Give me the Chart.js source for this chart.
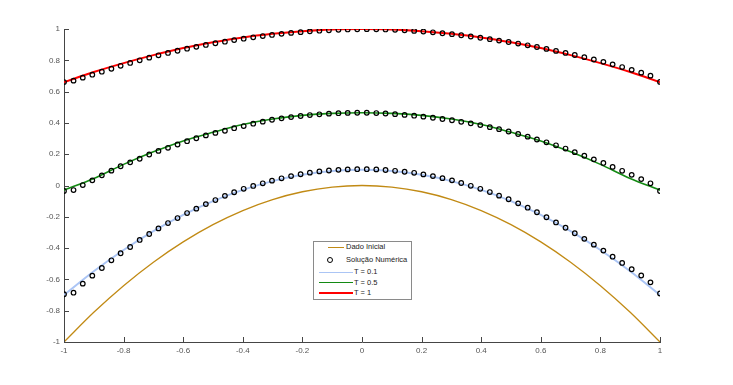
<!DOCTYPE html>
<html>
<head>
<meta charset="utf-8">
<script src="https://cdn.jsdelivr.net/npm/chart.js@4.4.0/dist/chart.umd.min.js"></script>
<style>
  html, body { margin: 0; padding: 0; background: #fff; }
  #wrap { position: relative; width: 733px; height: 385px; }
  #legend {
    position: absolute; left: 313px; top: 241px; width: 97px; height: 57px;
    border: 1px solid #8a8a8a; background: #fff;
    font-family: "Liberation Sans", Arial, sans-serif; font-size: 7.5px; color: #222;
  }
  #legend .row { position: absolute; left: 0; height: 10px; width: 97px; }
  #legend .txt { position: absolute; top: 0; line-height: 10px; white-space: nowrap; }
  #legend .ln { position: absolute; top: 5px; }
  #legend .mk { position: absolute; top: 2px; width: 4px; height: 4px; border: 1.2px solid #000; border-radius: 50%; }
</style>
</head>
<body>
<div id="wrap">
  <canvas id="chart" width="733" height="385"></canvas>
  <div id="legend"></div>
</div>
<script>
// grid of the numerical solution (64 nodes on [-1, 1])
var xNum = [-1, -0.968, -0.937, -0.905, -0.873, -0.841, -0.810, -0.778, -0.746, -0.714,
    -0.683, -0.651, -0.619, -0.587, -0.556, -0.524, -0.492, -0.460, -0.429, -0.397,
    -0.365, -0.333, -0.302, -0.270, -0.238, -0.206, -0.175, -0.143, -0.111, -0.079,
    -0.048, -0.016, 0.016, 0.048, 0.079, 0.111, 0.143, 0.175, 0.206, 0.238,
    0.270, 0.302, 0.333, 0.365, 0.397, 0.429, 0.460, 0.492, 0.524, 0.556,
    0.587, 0.619, 0.651, 0.683, 0.714, 0.746, 0.778, 0.810, 0.841, 0.873,
    0.905, 0.937, 0.968, 1];

// numerical solution (circles)
var numT01 = [-0.695, -0.685, -0.627, -0.576, -0.527, -0.478, -0.433, -0.393, -0.348, -0.310,
    -0.274, -0.240, -0.208, -0.176, -0.148, -0.119, -0.093, -0.066, -0.043, -0.021,
    -0.003, 0.014, 0.031, 0.046, 0.060, 0.072, 0.082, 0.090, 0.096, 0.100,
    0.103, 0.104, 0.104, 0.103, 0.099, 0.094, 0.088, 0.081, 0.071, 0.060,
    0.047, 0.033, 0.016, -0.002, -0.021, -0.042, -0.065, -0.088, -0.114, -0.142,
    -0.171, -0.203, -0.236, -0.270, -0.305, -0.341, -0.378, -0.416, -0.455, -0.495,
    -0.535, -0.575, -0.619, -0.690];
var numT05 = [-0.035, -0.029, 0.003, 0.033, 0.065, 0.095, 0.123, 0.148, 0.171, 0.198,
    0.221, 0.241, 0.262, 0.283, 0.302, 0.320, 0.336, 0.350, 0.366, 0.380,
    0.395, 0.408, 0.420, 0.429, 0.437, 0.444, 0.450, 0.455, 0.459, 0.462,
    0.464, 0.465, 0.465, 0.463, 0.460, 0.456, 0.451, 0.446, 0.440, 0.433,
    0.425, 0.417, 0.407, 0.397, 0.386, 0.373, 0.360, 0.345, 0.329, 0.312,
    0.294, 0.276, 0.257, 0.236, 0.213, 0.190, 0.167, 0.144, 0.119, 0.094,
    0.068, 0.041, 0.014, -0.035];
var numT1 = [0.661, 0.670, 0.689, 0.708, 0.727, 0.746, 0.765, 0.783, 0.800, 0.817,
    0.832, 0.847, 0.861, 0.874, 0.886, 0.898, 0.909, 0.919, 0.929, 0.938,
    0.947, 0.955, 0.962, 0.969, 0.975, 0.980, 0.985, 0.989, 0.992, 0.995,
    0.997, 0.998, 0.999, 0.998, 0.997, 0.995, 0.992, 0.988, 0.984, 0.979,
    0.973, 0.967, 0.960, 0.952, 0.944, 0.935, 0.926, 0.917, 0.907, 0.896,
    0.885, 0.873, 0.860, 0.847, 0.834, 0.820, 0.805, 0.790, 0.774, 0.757,
    0.739, 0.721, 0.702, 0.662];

// reference curves
var xLine = [-1, -0.9, -0.8, -0.7, -0.6, -0.5, -0.4, -0.3, -0.2, -0.1, 0,
    0.1, 0.2, 0.3, 0.4, 0.5, 0.6, 0.7, 0.8, 0.9, 1];
var dadoInicial = [-1, -0.81, -0.64, -0.49, -0.36, -0.25, -0.16, -0.09, -0.04, -0.01, 0,
    -0.01, -0.04, -0.09, -0.16, -0.25, -0.36, -0.49, -0.64, -0.81, -1];
var lineT01 = [-0.70, -0.548, -0.412, -0.292, -0.188, -0.10, -0.028, 0.028, 0.068, 0.092, 0.10,
    0.092, 0.068, 0.028, -0.028, -0.10, -0.188, -0.292, -0.412, -0.548, -0.70];
var lineT05 = [-0.03, 0.045, 0.135, 0.215, 0.285, 0.34, 0.39, 0.425, 0.448, 0.461, 0.465,
    0.461, 0.448, 0.425, 0.39, 0.34, 0.285, 0.215, 0.135, 0.045, -0.03];
var lineT1 = [0.66, 0.725, 0.782, 0.833, 0.878, 0.915, 0.946, 0.969, 0.986, 0.997, 1.0,
    0.997, 0.986, 0.969, 0.946, 0.915, 0.878, 0.833, 0.782, 0.725, 0.66];

var tickValues = [-1, -0.8, -0.6, -0.4, -0.2, 0, 0.2, 0.4, 0.6, 0.8, 1];
var legendLabels = ['Dado Inicial', 'Solução Numérica', 'T = 0.1', 'T = 0.5', 'T = 1'];

var colInicial = '#c18a14';
var colT01 = '#abc5f5';
var colT05 = '#138a13';
var colT1 = '#ff0000';
var axisCol = '#454545';

function pts(xs, ys) {
    return xs.map(function(x, i) { return {x: x, y: ys[i]}; });
}

function lineSet(label, ys, color, width) {
    return {
        label: label, data: pts(xLine, ys), showLine: true, borderColor: color, borderWidth: width,
        pointRadius: 0, cubicInterpolationMode: 'monotone', order: 2
    };
}

function circleSet(ys) {
    return {
        label: legendLabels[1], data: pts(xNum, ys), showLine: false,
        pointRadius: 2.3, pointBorderWidth: 1.2, pointBorderColor: '#000',
        pointBackgroundColor: 'rgba(0,0,0,0)', order: 1
    };
}

// small tick marks pointing into the plot, like the original axes
var innerTicks = {
    id: 'innerTicks',
    afterDraw: function(chart) {
        var ctx = chart.ctx, a = chart.chartArea;
        var xs = chart.scales.x, ys = chart.scales.y;
        ctx.save();
        ctx.strokeStyle = axisCol;
        ctx.lineWidth = 1;
        ctx.beginPath();
        tickValues.forEach(function(v) {
            var px = Math.round(xs.getPixelForValue(v)) + 0.5;
            ctx.moveTo(px, a.bottom);
            ctx.lineTo(px, a.bottom - 5);
            var py = Math.round(ys.getPixelForValue(v)) + 0.5;
            ctx.moveTo(a.left, py);
            ctx.lineTo(a.left + 5, py);
        });
        ctx.stroke();
        ctx.restore();
    }
};

function fmt(v) { return String(Number(v.toFixed(1))); }

var tickFont = {family: '"Liberation Sans", Arial, sans-serif', size: 8};

var chart = new Chart(document.getElementById('chart'), {
    type: 'scatter',
    data: {
        datasets: [
            circleSet(numT01),
            circleSet(numT05),
            circleSet(numT1),
            lineSet(legendLabels[0], dadoInicial, colInicial, 1.3),
            lineSet(legendLabels[2], lineT01, colT01, 2),
            lineSet(legendLabels[3], lineT05, colT05, 1.6),
            lineSet(legendLabels[4], lineT1, colT1, 2)
        ]
    },
    options: {
        responsive: false,
        animation: false,
        layout: {padding: {top: 29, right: 73, left: 0, bottom: 0}},
        plugins: {legend: {display: false}, tooltip: {enabled: false}},
        scales: {
            x: {
                type: 'linear', min: -1, max: 1,
                afterBuildTicks: function(s) { s.ticks = tickValues.map(function(v) { return {value: v}; }); },
                afterFit: function(s) { s.height = 43; },
                grid: {display: true, drawOnChartArea: false, drawTicks: false},
                border: {display: true, color: axisCol, width: 1},
                ticks: {font: tickFont, color: '#555', padding: 4, maxRotation: 0, callback: fmt}
            },
            y: {
                type: 'linear', min: -1, max: 1,
                afterBuildTicks: function(s) { s.ticks = tickValues.map(function(v) { return {value: v}; }); },
                afterFit: function(s) { s.width = 64; },
                grid: {display: true, drawOnChartArea: false, drawTicks: false},
                border: {display: true, color: axisCol, width: 1},
                ticks: {font: tickFont, color: '#555', padding: 4, callback: fmt}
            }
        }
    },
    plugins: [innerTicks]
});

// legend box, laid out like the original one
var legendRows = [
    {label: legendLabels[0], color: colInicial, width: 1, x0: 14, x1: 30, tx: 32, y: 0},
    {label: legendLabels[1], marker: true, x0: 14, tx: 32, y: 13},
    {label: legendLabels[2], color: colT01, width: 1, x0: 5, x1: 39, tx: 40, y: 25},
    {label: legendLabels[3], color: colT05, width: 1.5, x0: 5, x1: 39, tx: 40, y: 35.5},
    {label: legendLabels[4], color: colT1, width: 1.2, x0: 5, x1: 39, tx: 40, y: 46}
];
var leg = document.getElementById('legend');
legendRows.forEach(function(r) {
    var row = document.createElement('div');
    row.className = 'row';
    row.style.top = r.y + 'px';
    if (r.marker) {
        var mk = document.createElement('div');
        mk.className = 'mk';
        mk.style.left = (r.x0 - 1) + 'px';
        row.appendChild(mk);
    } else {
        var ln = document.createElement('div');
        ln.className = 'ln';
        ln.style.left = r.x0 + 'px';
        ln.style.width = (r.x1 - r.x0) + 'px';
        ln.style.height = r.width + 'px';
        ln.style.marginTop = (-r.width / 2) + 'px';
        ln.style.background = r.color;
        row.appendChild(ln);
    }
    var t = document.createElement('div');
    t.className = 'txt';
    t.style.left = r.tx + 'px';
    t.textContent = r.label;
    row.appendChild(t);
    leg.appendChild(row);
});
</script>
</body>
</html>
